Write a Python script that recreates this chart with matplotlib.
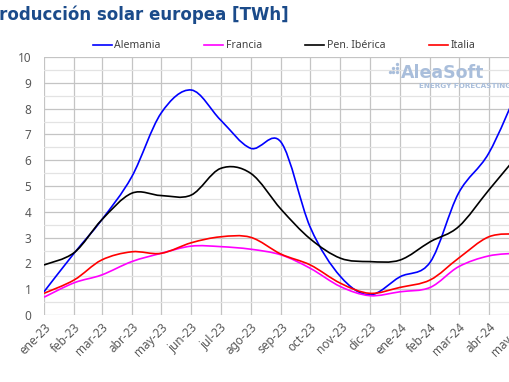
import numpy as np
import matplotlib
matplotlib.use("Agg")
import matplotlib.pyplot as plt
import matplotlib.dates as mdates
from matplotlib.path import Path
from matplotlib.patches import PathPatch
from matplotlib.lines import Line2D
from datetime import datetime

plt.rcParams['font.family'] = ['Noto Sans', 'DejaVu Sans']

## Data (monthly solar production, TWh)

months = ["2023-01", "2023-02", "2023-03", "2023-04", "2023-05", "2023-06",
          "2023-07", "2023-08", "2023-09", "2023-10", "2023-11", "2023-12",
          "2024-01", "2024-02", "2024-03", "2024-04", "2024-05"]
month_labels = ["ene-23", "feb-23", "mar-23", "abr-23", "may-23", "jun-23",
                "jul-23", "ago-23", "sep-23", "oct-23", "nov-23", "dic-23",
                "ene-24", "feb-24", "mar-24", "abr-24", "may-24"]

alemania = [0.90, 2.40, 3.68, 5.36, 7.82, 8.72, 7.56, 6.46, 6.70, 3.40,
            1.49, 0.78, 1.48, 2.05, 4.72, 6.27, 8.75]
francia = [0.69, 1.25, 1.55, 2.07, 2.39, 2.67, 2.65, 2.55, 2.33, 1.81,
           1.10, 0.75, 0.90, 1.07, 1.87, 2.29, 2.40]
pen_iberica = [1.94, 2.42, 3.68, 4.72, 4.63, 4.65, 5.68, 5.49, 4.10, 2.95,
               2.20, 2.07, 2.13, 2.84, 3.42, 4.84, 6.20]
italia = [0.84, 1.36, 2.13, 2.45, 2.39, 2.80, 3.03, 3.01, 2.36, 1.94,
          1.23, 0.84, 1.07, 1.36, 2.20, 3.03, 3.15]

series = [("Alemania", alemania, "#0000ff"),
          ("Francia", francia, "#ff00ff"),
          ("Pen. Ibérica", pen_iberica, "#000000"),
          ("Italia", italia, "#ff0000")]

x = mdates.date2num([datetime.strptime(m, "%Y-%m") for m in months])


def smooth_path(xs, ys):
    # Excel-like smoothed line: cubic bezier through every point
    pts = np.column_stack([xs, ys])
    n = len(pts)
    verts = [pts[0]]
    codes = [Path.MOVETO]
    for i in range(n - 1):
        p0 = pts[i - 1] if i > 0 else pts[i]
        p1 = pts[i]
        p2 = pts[i + 1]
        p3 = pts[i + 2] if i + 2 < n else pts[i + 1]
        c1 = p1 + (p2 - p0) / 6.0
        c2 = p2 - (p3 - p1) / 6.0
        verts += [c1, c2, p2]
        codes += [Path.CURVE4] * 3
    return Path(verts, codes)


fig = plt.figure(figsize=(5.10, 3.82), dpi=100)
# the chart is cropped on the right, like the original screenshot
ax = fig.add_axes([44 / 510, 67 / 382, 474 / 510, 258 / 382])

ax.set_xlim(x[0], x[-1])
ax.set_ylim(0, 10)

ax.set_yticks(np.arange(0, 11, 1))
ax.set_yticks(np.arange(0.5, 10, 1), minor=True)
ax.set_xticks(x)
ax.set_xticklabels(month_labels, rotation=45, ha="right", rotation_mode="anchor")

ax.grid(True, which="major", axis="both", color="#c4c4c4", lw=0.9)
ax.grid(True, which="minor", axis="y", color="#e3e3e3", lw=0.9)
ax.set_axisbelow(True)
for s in ax.spines.values():
    s.set_visible(False)
ax.tick_params(axis="both", which="both", length=0, colors="#595959", labelsize=8.5)
ax.tick_params(axis="y", pad=9)
ax.tick_params(axis="x", pad=4)

handles = []
for name, vals, col in series:
    patch = PathPatch(smooth_path(x, vals), facecolor="none", edgecolor=col,
                      lw=1.2, transform=ax.transData, clip_on=True)
    ax.add_patch(patch)
    handles.append(Line2D([], [], color=col, lw=1.2, label=name))

leg = fig.legend(handles=handles, loc="center", bbox_to_anchor=(284 / 510, 1 - 46 / 382),
                 ncol=4, frameon=False, fontsize=7.6, handlelength=1.8,
                 handletextpad=0.25, columnspacing=4.1, borderaxespad=0.0)
for t in leg.get_texts():
    t.set_color("#404040")

fig.text(-0.026, 1 - 15 / 382, "Producción solar europea [TWh]", fontsize=12,
         fontweight="bold", family="DejaVu Sans", color="#1b4b8a",
         ha="left", va="center")

# watermark logo
logo_col = "#a9bedb"
fig.text(401 / 510, 1 - 73 / 382, "AleaSoft", fontsize=12.5, fontweight="bold",
         family="DejaVu Sans", color=logo_col, ha="left", va="center")
fig.text(511 / 510, 1 - 86 / 382, "ENERGY FORECASTING", fontsize=5.2,
         fontweight="bold", family="DejaVu Sans", color=logo_col,
         ha="right", va="center")
dot_x = [390, 393, 393, 397, 397, 397]
dot_y = [72, 72, 68, 72, 68, 64]
fig.add_artist(Line2D([v / 510 for v in dot_x], [1 - v / 382 for v in dot_y],
                      transform=fig.transFigure, ls="none", marker="o",
                      ms=2.4, color=logo_col, mec="none"))

fig.savefig("out.png", dpi=100)
